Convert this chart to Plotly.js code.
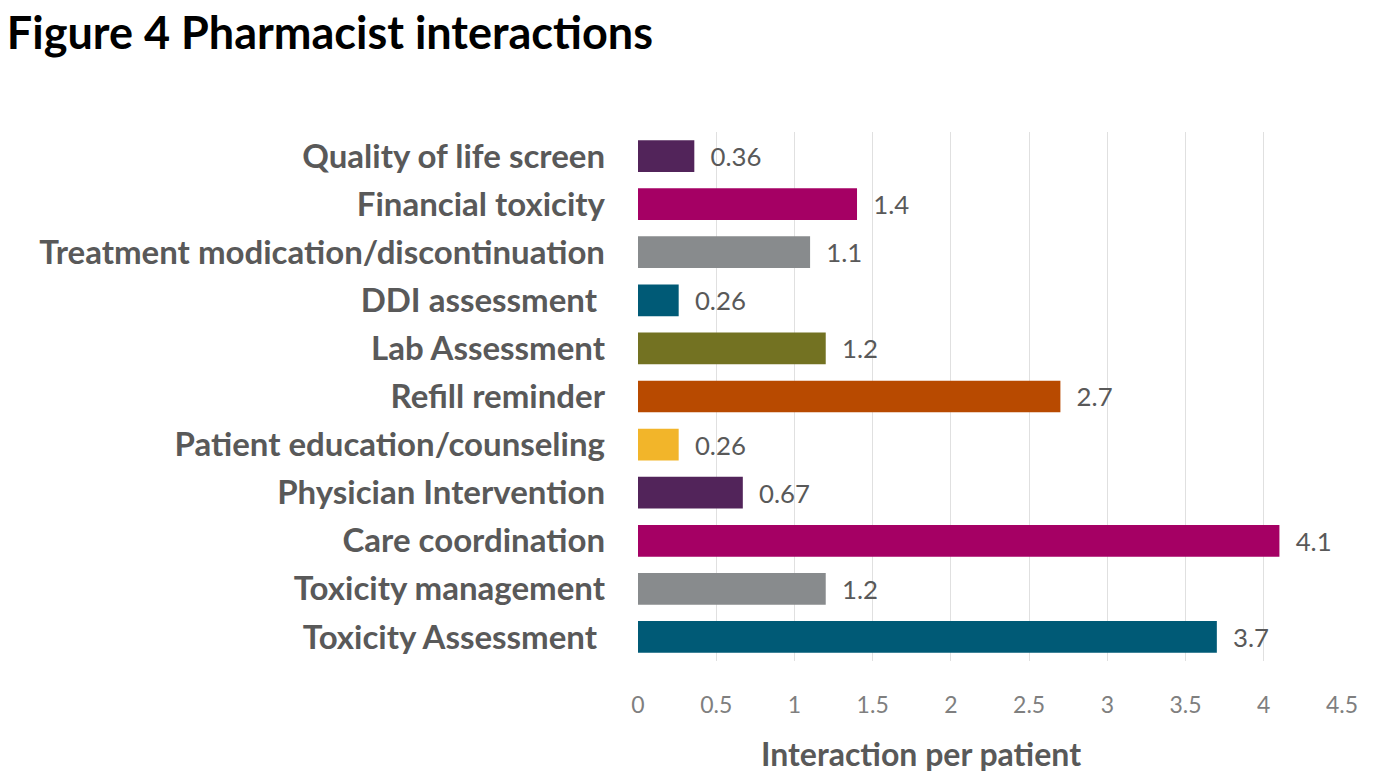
<!DOCTYPE html>
<html>
<head>
<meta charset="utf-8">
<script src="https://cdn.plot.ly/plotly-3.0.1.min.js"></script>
<style>html,body{margin:0;padding:0;background:#fff;}#chart{width:1374px;height:782px;}</style>
</head>
<body>
<div id="chart"></div>
<script>
const categories = [
  "Quality of life screen",
  "Financial toxicity",
  "Treatment modication/discontinuation",
  "DDI assessment\u00a0",
  "Lab Assessment",
  "Refill reminder",
  "Patient education/counseling",
  "Physician Intervention",
  "Care coordination",
  "Toxicity management",
  "Toxicity Assessment\u00a0"
];
const values = [0.36, 1.4, 1.1, 0.26, 1.2, 2.7, 0.26, 0.67, 4.1, 1.2, 3.7];
const barColors = ["#52245a", "#a50064", "#888b8d", "#005a76", "#737222", "#b84a00", "#f2b52a", "#52245a", "#a50064", "#888b8d", "#005a76"];
const xTicks = [0, 0.5, 1, 1.5, 2, 2.5, 3, 3.5, 4, 4.5];

const trace = {
  type: "bar",
  orientation: "h",
  y: categories,
  x: values,
  marker: {color: barColors, line: {width: 0}},
  text: values.map(v => "\u00a0\u00a0" + v),
  textposition: "outside",
  textfont: {family: "Lato, sans-serif", size: 26, color: "#595959"},
  cliponaxis: false,
  hoverinfo: "none"
};

const layout = {
  width: 1374, height: 782,
  margin: {l: 638, r: 32, t: 132, b: 121},
  paper_bgcolor: "#fff", plot_bgcolor: "#fff",
  bargap: 0.34,
  showlegend: false,
  title: {text: "<b>Figure 4 Pharmacist interactions</b>", x: 0.005, xanchor: "left", y: 0.958, yanchor: "middle",
          font: {family: "Lato, sans-serif", size: 45, color: "#000"}},
  xaxis: {range: [0, 4.5], tickvals: xTicks, ticktext: xTicks.map(String), showgrid: true, gridcolor: "#e0e0e0", gridwidth: 1,
          zeroline: false, showline: false, ticks: "", ticklabelstandoff: 28,
          tickfont: {family: "Lato, sans-serif", size: 23, color: "#7f7f7f"}},
  yaxis: {categoryorder: "array", categoryarray: categories.slice().reverse(),
          showgrid: false, zeroline: false, showline: false, ticks: "", ticklabelstandoff: 32,
          tickfont: {family: "Lato, sans-serif", size: 33, color: "#595959", weight: "bold"}},
  annotations: [{text: "<b>Interaction per patient</b>", xref: "paper", yref: "paper", x: (921 - 638) / 704, y: -0.175,
                 xanchor: "center", yanchor: "middle", showarrow: false,
                 font: {family: "Lato, sans-serif", size: 32, color: "#595959"}}]
};

Plotly.newPlot("chart", [trace], layout, {displayModeBar: false, staticPlot: true});
</script>
</body>
</html>
